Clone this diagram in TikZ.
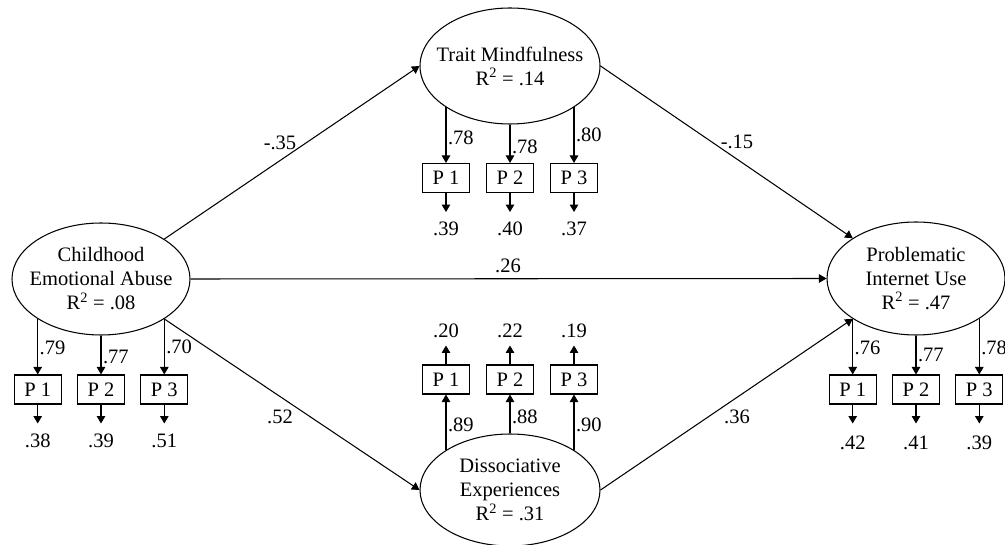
\documentclass[tikz,border=0pt]{standalone}
\usepackage{fontspec}
\setmainfont{Liberation Serif}
\usetikzlibrary{shapes.geometric,arrows.meta}
\begin{document}
\begin{tikzpicture}[x=1pt,y=-1pt,line width=1.05pt,
  latent/.style={draw,ellipse,inner sep=0pt,minimum width=178pt,minimum height=112pt},
  ltext/.style={align=center,inner sep=0pt,font=\fontsize{20.5}{24}\selectfont},
  ind/.style={draw,rectangle,inner sep=0pt,minimum width=47pt,minimum height=29pt,font=\fontsize{20.5}{24}\selectfont},
  arr/.style={-{Triangle[length=7.5pt,width=8.5pt]}},
  lbl/.style={inner sep=0pt,font=\fontsize{20.5}{24}\selectfont},
  load/.style={lbl,anchor=west,xshift=1.5pt}]
\useasboundingbox (0,0) rectangle (1005,545);

% latent variables
\node[latent] (cea) at (101,279) {};
\node[ltext] (ceat) at (cea.center) {Childhood\\Emotional Abuse\\R\textsuperscript{2} = .08};
\node[latent,minimum width=180pt,minimum height=116pt] (tm) at (510,66) {};
\node[ltext] (tmt) at (tm.center) {Trait Mindfulness\\R\textsuperscript{2} = .14};
\node[latent,minimum width=180pt] (de) at (510,490) {};
\node[ltext] (det) at (de.center) {Dissociative\\Experiences\\R\textsuperscript{2} = .31};
\node[latent,minimum height=113pt] (piu) at (916,278.5) {};
\node[ltext] (piut) at (piu.center) {Problematic\\Internet Use\\R\textsuperscript{2} = .47};

% structural paths
\draw[arr] (cea.north east) -- (tm.west);
\draw[arr] (tm.east) -- (piu.north west);
\draw[arr] (cea.east) -- (piu.west);
\draw[arr] (cea.south east) -- (de.west);
\draw[arr] (de.east) -- (piu.south west);
\node[lbl] (l1) at (280,143) {-.35};
\node[lbl] (l2) at (737,142) {-.15};
\node[lbl] (l3) at (508,266) {.26};
\node[lbl] (l4) at (280,417) {.52};
\node[lbl] (l5) at (737,417) {.36};

% helper rows
\coordinate (yA) at (0,389.5);
\coordinate (yAe) at (0,441);
\coordinate (yT) at (0,178);
\coordinate (yTe) at (0,229);
\coordinate (yD) at (0,379.5);
\coordinate (yDe) at (0,331);
\coordinate (yP) at (0,389.5);
\coordinate (yPe) at (0,443);

% Childhood indicators
\node[ind] (a1) at (cea.south west |- yA) {P 1};
\node[ind] (a2) at (cea.south |- yA) {P 2};
\node[ind] (a3) at (cea.south east |- yA) {P 3};
\draw[arr] (cea.south west) -- (a1.north);
\draw[arr] (cea.south) -- (a2.north);
\draw[arr] (cea.south east) -- (a3.north);
\node[load] (a1l) at (cea.south west |- 0,348) {.79};
\node[load] (a2l) at (cea.south |- 0,357) {.77};
\node[load] (a3l) at (cea.south east |- 0,347) {.70};
\draw[arr] (a1.south) -- ++(0,19) coordinate (a1c);
\draw[arr] (a2.south) -- ++(0,19) coordinate (a2c);
\draw[arr] (a3.south) -- ++(0,19) coordinate (a3c);
\node[lbl] (a1e) at (a1c |- yAe) {.38};
\node[lbl] (a2e) at (a2c |- yAe) {.39};
\node[lbl] (a3e) at (a3c |- yAe) {.51};

% Trait Mindfulness indicators
\node[ind] (t1) at (tm.south west |- yT) {P 1};
\node[ind] (t2) at (tm.south |- yT) {P 2};
\node[ind] (t3) at (tm.south east |- yT) {P 3};
\draw[arr] (tm.south west) -- (t1.north);
\draw[arr] (tm.south) -- (t2.north);
\draw[arr] (tm.south east) -- (t3.north);
\node[load] (t1l) at (tm.south west |- 0,138) {.78};
\node[load] (t2l) at (tm.south |- 0,147) {.78};
\node[load] (t3l) at (tm.south east |- 0,135) {.80};
\draw[arr] (t1.south) -- ++(0,19) coordinate (t1c);
\draw[arr] (t2.south) -- ++(0,19) coordinate (t2c);
\draw[arr] (t3.south) -- ++(0,19) coordinate (t3c);
\node[lbl] (t1e) at (t1c |- yTe) {.39};
\node[lbl] (t2e) at (t2c |- yTe) {.40};
\node[lbl] (t3e) at (t3c |- yTe) {.37};

% Dissociative indicators
\node[ind] (d1) at (de.north west |- yD) {P 1};
\node[ind] (d2) at (de.north |- yD) {P 2};
\node[ind] (d3) at (de.north east |- yD) {P 3};
\draw[arr] (de.north west) -- (d1.south);
\draw[arr] (de.north) -- (d2.south);
\draw[arr] (de.north east) -- (d3.south);
\node[load] (d1l) at (de.north west |- 0,425) {.89};
\node[load] (d2l) at (de.north |- 0,417) {.88};
\node[load] (d3l) at (de.north east |- 0,425) {.90};
\draw[arr] (d1.north) -- ++(0,-19) coordinate (d1c);
\draw[arr] (d2.north) -- ++(0,-19) coordinate (d2c);
\draw[arr] (d3.north) -- ++(0,-19) coordinate (d3c);
\node[lbl] (d1e) at (d1c |- yDe) {.20};
\node[lbl] (d2e) at (d2c |- yDe) {.22};
\node[lbl] (d3e) at (d3c |- yDe) {.19};

% PIU indicators
\node[ind] (p1) at (piu.south west |- yP) {P 1};
\node[ind] (p2) at (piu.south |- yP) {P 2};
\node[ind] (p3) at (piu.south east |- yP) {P 3};
\draw[arr] (piu.south west) -- (p1.north);
\draw[arr] (piu.south) -- (p2.north);
\draw[arr] (piu.south east) -- (p3.north);
\node[load] (p1l) at (piu.south west |- 0,348) {.76};
\node[load] (p2l) at (piu.south |- 0,355) {.77};
\node[load] (p3l) at (piu.south east |- 0,348) {.78};
\draw[arr] (p1.south) -- ++(0,19) coordinate (p1c);
\draw[arr] (p2.south) -- ++(0,19) coordinate (p2c);
\draw[arr] (p3.south) -- ++(0,19) coordinate (p3c);
\node[lbl] (p1e) at (p1c |- yPe) {.42};
\node[lbl] (p2e) at (p2c |- yPe) {.41};
\node[lbl] (p3e) at (p3c |- yPe) {.39};
\end{tikzpicture}
\end{document}
